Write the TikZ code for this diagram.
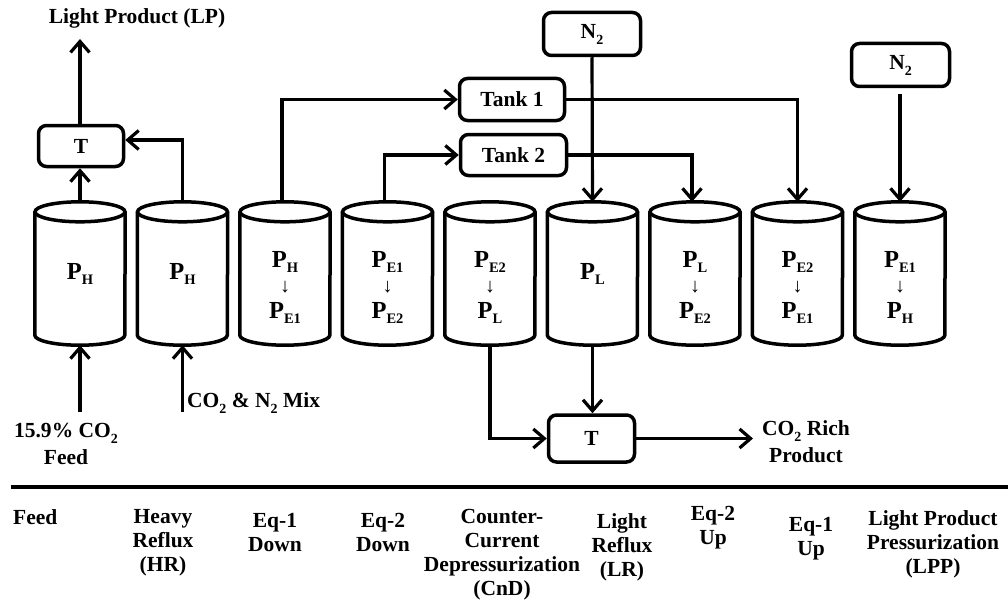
\documentclass[tikz,border=0pt]{standalone}
\usepackage{fontspec}
\setmainfont{Liberation Serif}
\usetikzlibrary{arrows.meta}
\newcommand{\sbs}[1]{\raisebox{-6pt}{\fontsize{14}{14}\selectfont #1}}
\newcommand{\cylP}[1]{{\fontsize{24.5}{24.5}\selectfont P}\raisebox{-5pt}{\fontsize{14.5}{14.5}\selectfont #1}}
\newcommand{\dnar}{{\fontsize{20}{20}\selectfont\mdseries ↓}}
\begin{document}
\begin{tikzpicture}[x=1pt,y=-1pt,
  every node/.style={font=\fontsize{21.5}{24}\selectfont\bfseries,inner sep=0pt},
  arr/.style={line width=3.2pt,-{Straight Barb[length=11pt,width=19pt,line width=3.2pt]}},
  box/.style={draw,line width=3.5pt,rounded corners=8pt},
  cylw/.style={line width=3.5pt},
  cyln/.style={minimum width=90pt,minimum height=143pt},
  lbl/.style={align=center},
  tri/.style={align=center,font=\fontsize{24}{25.5}\selectfont\bfseries},
  two/.style={align=center,font=\fontsize{21.5}{27.5}\selectfont\bfseries},
]
\useasboundingbox (0,0) rectangle (1008,615);

% cylinders
\foreach \i/\cx in {1/80,2/182.5,3/285,4/387.5,5/490,6/592.5,7/695,8/797.5,9/900} {
  \node[cyln] (c\i) at (\cx,273.5) {};
  \draw[cylw] (c\i.north west) ++(0,10) -- ([yshift=10pt]c\i.south west)
     arc[start angle=180,end angle=360,x radius=45pt,y radius=10pt]
     -- ([yshift=-10pt]c\i.north east);
  \draw[cylw] ([yshift=-10pt]c\i.north) ellipse[x radius=45pt,y radius=10pt];
}
\node[lbl] at (c1) {\cylP{H}};
\node[lbl] at (c2) {\cylP{H}};
\node[lbl] at (c6) {\cylP{L}};
\node[tri] at ([yshift=-13.5pt]c3.center) {\cylP{H}\\ \dnar\\ \cylP{E1}};
\node[tri] at ([yshift=-13.5pt]c4.center) {\cylP{E1}\\ \dnar\\ \cylP{E2}};
\node[tri] at ([yshift=-13.5pt]c5.center) {\cylP{E2}\\ \dnar\\ \cylP{L}};
\node[tri] at ([yshift=-13.5pt]c7.center) {\cylP{L}\\ \dnar\\ \cylP{E2}};
\node[tri] at ([yshift=-13.5pt]c8.center) {\cylP{E2}\\ \dnar\\ \cylP{E1}};
\node[tri] at ([yshift=-13.5pt]c9.center) {\cylP{E1}\\ \dnar\\ \cylP{H}};

% boxes
\node[box,minimum width=85pt,minimum height=41pt] (T1) at (81,146) {T};
\node[box,minimum width=105pt,minimum height=42pt] (tk1) at (512,99.5) {Tank 1};
\node[box,minimum width=106pt,minimum height=41pt] (tk2) at (513.5,155) {Tank 2};
\node[box,minimum width=97pt,minimum height=43pt] (n2a) at (592,34) {N\sbs{2}};
\node[box,minimum width=98pt,minimum height=43pt] (n2b) at (900.5,65) {N\sbs{2}};
\node[box,minimum width=86pt,minimum height=47pt] (T2) at (591.5,438.5) {T};

% texts
\node[anchor=base] (lpt) at (137,24) {Light Product (LP)};
\coordinate (lp) at (80,39);
\node[two] (fdt) at (66,444) {15.9\% CO\sbs{2}\\Feed};
\coordinate (fd) at (80,412);
\node[anchor=base west] (mxt) at (187,407) {CO\sbs{2} \& N\sbs{2} Mix};
\coordinate (mx) at (182.5,412);
\node[two,anchor=west] (co2t) at (762,441.5) {CO\sbs{2} Rich\\Product};
\coordinate (co2) at (753,438.5);

% connectors
\draw[arr] (c1.north) -- (c1.north |- T1.south);
\draw[arr] (c1.north |- T1.north) -- (lp);
\draw[arr] (c2.north) |- ([yshift=6pt]T1.east);
\draw[arr] ([xshift=-3pt]c3.north) |- (tk1.west);
\draw[arr] ([xshift=-3pt]c4.north) |- (tk2.west);
\draw[arr] (n2a.south) -- (c6.north);
\draw[arr] (tk1.east) -| (c8.north);
\draw[arr] (tk2.east) -| ([xshift=-3pt]c7.north);
\draw[arr,shorten <=6pt] (n2b.south -| c9.north) -- (c9.north);
\draw[arr] (c5.south) |- (T2.west);
\draw[arr] (c6.south) -- (c6.south |- T2.north);
\draw[arr] (T2.east) -- (co2);
\draw[arr] (fd) -- (c1.south);
\draw[arr] (mx) -- (c2.south);

% phase axis
\draw[line width=3.5pt] (11,487) -- (1008,487);
\node[align=center,anchor=north west] (s1) at (13,509) {Feed};
\node[align=center,anchor=north] (s2) at (163,509) {Heavy\\Reflux\\(HR)};
\node[align=center,anchor=north] (s3) at (275,513) {Eq-1\\Down};
\node[align=center,anchor=north] (s4) at (383,513) {Eq-2\\Down};
\node[align=center,anchor=north] (s5) at (502,509) {Counter-\\Current\\Depressurization\\(CnD)};
\node[align=center,anchor=north] (s6) at (622,513) {Light\\Reflux\\(LR)};
\node[align=center,anchor=north] (s7) at (713,506) {Eq-2\\Up};
\node[align=center,anchor=north] (s8) at (811,517) {Eq-1\\Up};
\node[align=center,anchor=north] (s9) at (933,510) {Light Product\\Pressurization\\(LPP)};
\end{tikzpicture}
\end{document}
